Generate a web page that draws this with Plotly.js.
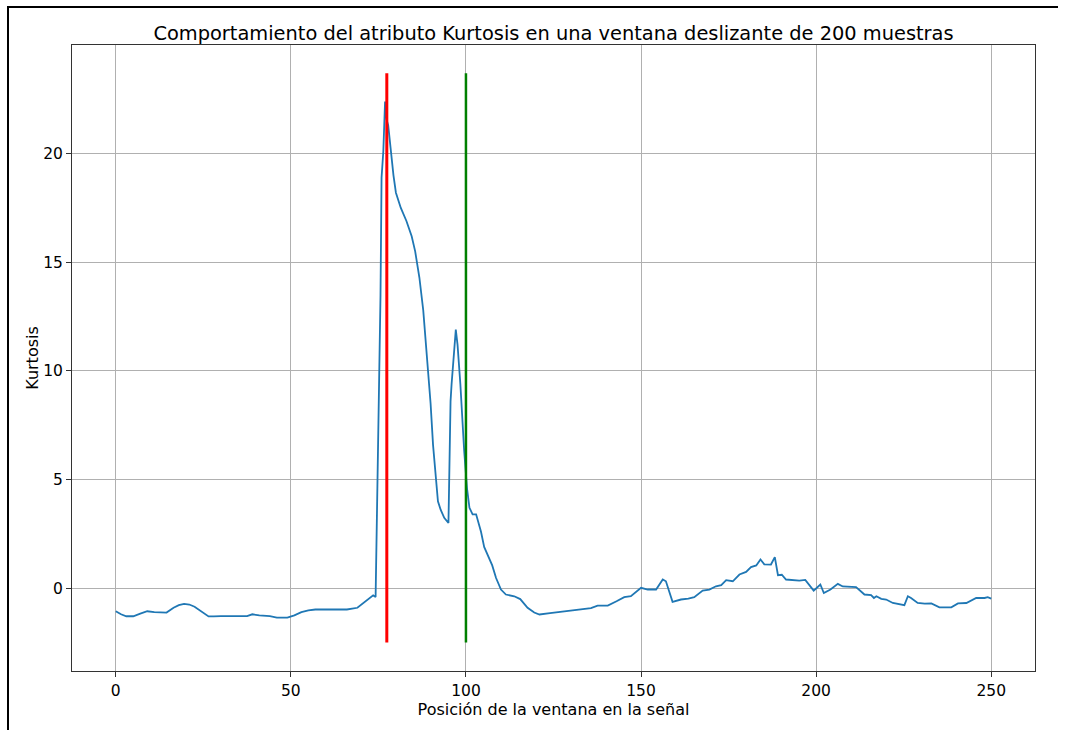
<!DOCTYPE html>
<html>
<head>
<meta charset="utf-8">
<script src="https://cdn.plot.ly/plotly-3.0.1.min.js"></script>
<style>
html,body{margin:0;padding:0;background:#fff;}
#chart{width:1066px;height:730px;}
</style>
</head>
<body>
<div id="chart"></div>
<script>
// Window position (x) and Kurtosis value (y)
const posicion = [0,1.5,3,5,7,9,11,14.5,16.5,18,19.5,21,22.5,24.5,26.5,28,30,35,37.5,39,41,44,46,49,51,53,55,57,60,66,69,71,72.5,73.5,74.2,74.4,74.8,75.2,75.6,75.9,76.4,76.9,77.3,77.8,78.6,79.3,80,81.4,83,84.5,85.5,86.7,87.8,88.9,89.9,90.6,91.5,92,92.8,93.8,95,95.2,95.6,95.9,96.5,97.1,97.6,98.4,99.5,100.3,101,101.9,102.9,104.3,105.2,106.4,107.5,108.6,110,111.4,113.8,115.5,117.6,119.5,121,124,126.2,128,131,132.9,135.7,137.6,140.5,143,145.2,147.1,148.5,150,151.9,154.3,156.2,157.1,159,161.4,163.5,165.2,167.6,169.5,171.4,172.9,174.3,176.2,178.1,180,181.4,182.9,184.1,185.2,187.1,188.2,189.1,190.2,191.4,195.2,196.9,199.3,201.2,202.2,204.1,206.2,207.6,211.4,213.8,215.7,216.5,217.2,218.6,220,221.9,223.8,225.2,226.2,227.1,229,231,232.9,235.2,238.6,240.5,242.9,245.7,248.1,249,250];
const kurtosis = [-1.06,-1.2,-1.29,-1.29,-1.17,-1.06,-1.1,-1.12,-0.9,-0.78,-0.72,-0.75,-0.85,-1.08,-1.3,-1.3,-1.28,-1.28,-1.28,-1.2,-1.25,-1.28,-1.35,-1.35,-1.25,-1.1,-1.02,-0.98,-0.98,-0.98,-0.9,-0.65,-0.45,-0.33,-0.4,1.5,5.5,10.2,13.5,18.9,20.1,22.4,21.6,21.3,20.0,19.0,18.2,17.5,16.9,16.2,15.5,14.3,12.8,10.6,8.5,6.6,4.8,4.0,3.6,3.24,3.0,5.5,8.6,9.4,10.9,11.9,11.2,9.4,6.3,4.6,3.7,3.4,3.4,2.6,1.9,1.45,1.05,0.47,-0.06,-0.29,-0.37,-0.5,-0.9,-1.12,-1.21,-1.15,-1.1,-1.06,-1.02,-0.95,-0.92,-0.8,-0.8,-0.6,-0.41,-0.37,-0.2,0.02,-0.06,-0.06,0.4,0.32,-0.63,-0.52,-0.48,-0.41,-0.11,-0.06,0.09,0.14,0.37,0.32,0.63,0.75,0.97,1.05,1.32,1.1,1.09,1.43,0.6,0.62,0.4,0.35,0.38,-0.11,0.17,-0.22,-0.06,0.2,0.08,0.05,-0.29,-0.32,-0.45,-0.37,-0.49,-0.52,-0.68,-0.72,-0.78,-0.37,-0.45,-0.68,-0.71,-0.7,-0.88,-0.88,-0.7,-0.68,-0.45,-0.45,-0.41,-0.48];

// Vertical marker lines
const marcaRojaX = [77.4, 77.4];
const marcaVerdeX = [100, 100];
const marcaY = [-2.5, 23.7];

const xTicks = [0, 50, 100, 150, 200, 250];
const yTicks = [0, 5, 10, 15, 20];

const traces = [
  {x: posicion, y: kurtosis, type: 'scatter', mode: 'lines',
   line: {color: '#1f77b4', width: 1.8}, hoverinfo: 'x+y'},
  {x: marcaRojaX, y: marcaY, type: 'scatter', mode: 'lines',
   line: {color: '#ff0000', width: 3}},
  {x: marcaVerdeX, y: marcaY, type: 'scatter', mode: 'lines',
   line: {color: '#008000', width: 2.5}}
];

const font = {family: 'DejaVu Sans, sans-serif', size: 15.5, color: '#000'};
const titleFont = {family: 'DejaVu Sans, sans-serif', size: 16, color: '#000'};

const layout = {
  width: 1066, height: 730,
  paper_bgcolor: '#fff', plot_bgcolor: '#fff',
  showlegend: false,
  margin: {l: 72, r: 31, t: 45, b: 59},
  font: font,
  title: {text: 'Comportamiento del atributo Kurtosis en una ventana deslizante de 200 muestras',
          font: {family: 'DejaVu Sans, sans-serif', size: 19.4, color: '#000'},
          x: 0.5, xref: 'paper', xanchor: 'center', y: 1, yref: 'paper', yanchor: 'bottom', pad: {b: 5}},
  xaxis: {
    range: [-12.5, 262.5], tickvals: xTicks, ticktext: xTicks.map(String),
    showgrid: true, gridcolor: '#b0b0b0', gridwidth: 1, zeroline: false,
    showline: true, linecolor: '#333', linewidth: 1, mirror: true,
    ticks: 'outside', ticklen: 5, tickcolor: '#333', tickfont: font,
    title: {text: 'Posición de la ventana en la señal', font: titleFont, standoff: 1}
  },
  yaxis: {
    range: [-3.81, 25.0], tickvals: yTicks, ticktext: yTicks.map(String),
    showgrid: true, gridcolor: '#b0b0b0', gridwidth: 1, zeroline: false,
    showline: true, linecolor: '#333', linewidth: 1, mirror: true,
    ticks: 'outside', ticklen: 5, tickcolor: '#333', tickfont: font,
    title: {text: 'Kurtosis', font: titleFont, standoff: 0}
  },
  shapes: [
    {type: 'line', xref: 'paper', yref: 'paper', x0: (8-72)/963, x1: (8-72)/963, y0: (671-7)/626, y1: (671-735)/626,
     line: {color: '#000', width: 2}},
    {type: 'line', xref: 'paper', yref: 'paper', x0: (7-72)/963, x1: (1058-72)/963, y0: (671-7)/626, y1: (671-7)/626,
     line: {color: '#000', width: 2}}
  ]
};

Plotly.newPlot('chart', traces, layout, {staticPlot: true, displayModeBar: false});
</script>
</body>
</html>
